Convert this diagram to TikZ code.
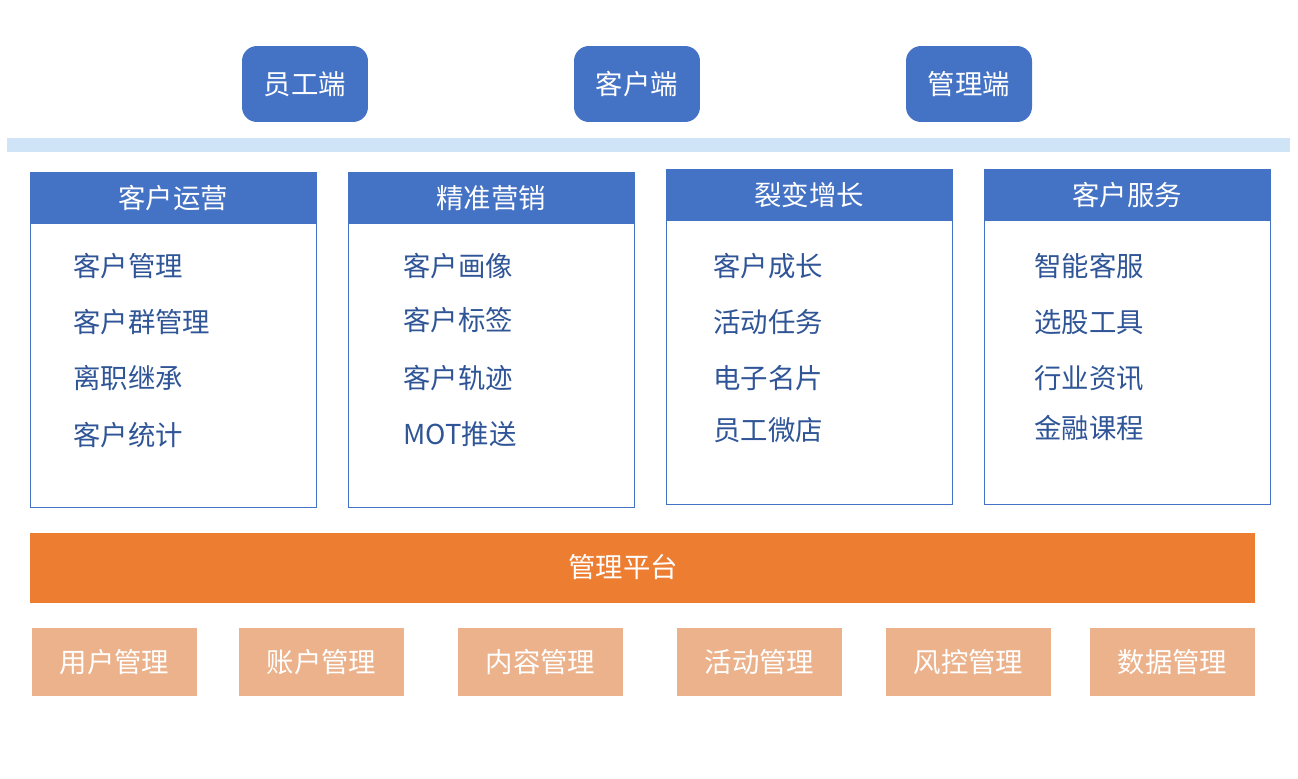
\documentclass[tikz,border=0pt]{standalone}
\usepackage{fontspec}
\setmainfont{Noto Sans CJK SC}
\definecolor{hdblue}{HTML}{4472C4}
\definecolor{bandblue}{HTML}{D0E4F8}
\definecolor{itemblue}{HTML}{2F5597}
\definecolor{platorange}{HTML}{ED7D31}
\definecolor{modpeach}{HTML}{EBB28C}
\begin{document}
\begin{tikzpicture}[x=0.02cm, y=-0.02cm, font=\fontsize{15.6}{18}\selectfont,
    endbox/.style={fill=hdblue, text=white, rounded corners=0.3cm, inner sep=0pt,
      minimum width=2.52cm, minimum height=1.52cm},
    colhead/.style={fill=hdblue, text=white, inner sep=0pt,
      minimum width=5.72cm, minimum height=1.04cm},
    item/.style={anchor=west, text=itemblue, inner sep=0pt},
    modbox/.style={fill=modpeach, text=white, inner sep=0pt,
      minimum width=3.3cm, minimum height=1.36cm}]
  \useasboundingbox (0,0) rectangle (1298,778);
  % clients
  \node[endbox] (staff) at (305,84) {员工端};
  \node[endbox] (cust) at (637,84) {客户端};
  \node[endbox] (admin) at (969,84) {管理端};
  \fill[bandblue] (7,138) rectangle (1290,152);
  % columns
  \draw[hdblue, line width=0.02cm] (30,172) rectangle (316,507);
  \node[colhead] (ops) at (173,198) {客户运营};
  \foreach \y/\t [count=\i] in {266/客户管理, 322/客户群管理, 378/离职继承, 435/客户统计}
    \node[item] (ops\i) at (73,\y) {\t};
  \draw[hdblue, line width=0.02cm] (348,172) rectangle (634,507);
  \node[colhead] (mkt) at (491,198) {精准营销};
  \foreach \y/\t [count=\i] in {266/客户画像, 320/客户标签, 378/客户轨迹, 434/MOT推送}
    \node[item] (mkt\i) at (403,\y) {\t};
  \draw[hdblue, line width=0.02cm] (666,169) rectangle (952,504);
  \node[colhead] (grow) at (809,195) {裂变增长};
  \foreach \y/\t [count=\i] in {266/客户成长, 322/活动任务, 378/电子名片, 430/员工微店}
    \node[item] (grow\i) at (713,\y) {\t};
  \draw[hdblue, line width=0.02cm] (984,169) rectangle (1270,504);
  \node[colhead] (serv) at (1127,195) {客户服务};
  \foreach \y/\t [count=\i] in {266/智能客服, 322/选股工具, 378/行业资讯, 428/金融课程}
    \node[item] (serv\i) at (1034,\y) {\t};
  % platform
  \fill[platorange] (30,533) rectangle (1255,603);
  \node[text=white] (plat) at (623,567) {管理平台};
  \foreach \x/\t [count=\i] in {32/用户管理, 239/账户管理, 458/内容管理, 677/活动管理, 886/风控管理, 1090/数据管理}
    \node[modbox] (mod\i) at (\x+82.5,662) {\t};
\end{tikzpicture}
\end{document}
